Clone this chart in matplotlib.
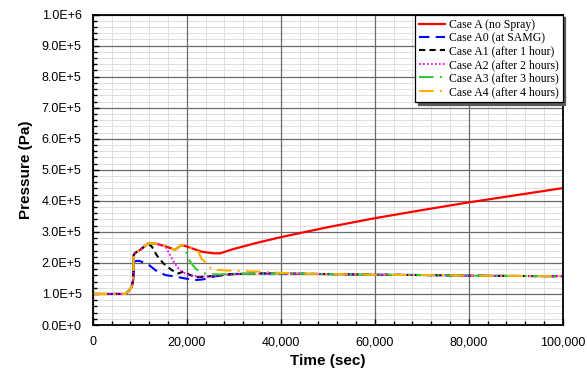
import matplotlib
matplotlib.use("Agg")
import matplotlib.pyplot as plt
from matplotlib.ticker import MultipleLocator, FuncFormatter

# ---- data (time in s, pressure in Pa) ----
t_A = [0, 6900, 7600, 8300, 8600, 8700, 9000, 10100, 11800, 13200, 15400, 17500, 18900,
       20000, 23200, 25700, 27100, 30000, 35000, 40000, 45000, 50000, 60000, 70000,
       80000, 90000, 100000]
p_A = [1.00e5, 1.00e5, 1.09e5, 1.23e5, 1.45e5, 2.25e5, 2.32e5, 2.42e5, 2.63e5, 2.63e5,
       2.54e5, 2.42e5, 2.58e5, 2.53e5, 2.36e5, 2.31e5, 2.31e5, 2.45e5, 2.65e5, 2.83e5,
       2.99e5, 3.15e5, 3.44e5, 3.70e5, 3.95e5, 4.18e5, 4.41e5]

t_A0 = [0, 6900, 7600, 8300, 8600, 8800, 9700, 11500, 13300, 15400, 17500, 19600, 22100,
        23500, 25700, 29200, 35000, 40000, 50000, 60000, 70000, 80000, 90000, 100000]
p_A0 = [1.00e5, 1.00e5, 1.09e5, 1.23e5, 1.45e5, 2.05e5, 2.07e5, 1.99e5, 1.77e5, 1.61e5,
        1.56e5, 1.50e5, 1.45e5, 1.47e5, 1.56e5, 1.64e5, 1.66e5, 1.66e5, 1.64e5, 1.62e5,
        1.61e5, 1.59e5, 1.58e5, 1.57e5]

t_A1 = [0, 6900, 7600, 8300, 8600, 8700, 9000, 10100, 11800, 12600, 13600, 15000, 16800,
        18200, 19300, 20700, 22100, 24300, 27000, 30000, 35000, 40000, 50000, 60000,
        70000, 80000, 90000, 100000]
p_A1 = [1.00e5, 1.00e5, 1.09e5, 1.23e5, 1.45e5, 2.25e5, 2.32e5, 2.42e5, 2.63e5, 2.52e5,
        2.25e5, 1.99e5, 1.77e5, 1.66e5, 1.72e5, 1.61e5, 1.54e5, 1.56e5, 1.60e5, 1.64e5,
        1.66e5, 1.66e5, 1.64e5, 1.62e5, 1.61e5, 1.59e5, 1.58e5, 1.57e5]

t_A2 = [0, 6900, 7600, 8300, 8600, 8700, 9000, 10100, 11800, 13200, 15400, 15700, 16800,
        17900, 18900, 20300, 22500, 25000, 28000, 32000, 40000, 50000, 60000, 70000,
        80000, 90000, 100000]
p_A2 = [1.00e5, 1.00e5, 1.09e5, 1.23e5, 1.45e5, 2.25e5, 2.32e5, 2.42e5, 2.63e5, 2.63e5,
        2.54e5, 2.47e5, 2.15e5, 1.88e5, 1.72e5, 1.61e5, 1.56e5, 1.57e5, 1.61e5, 1.65e5,
        1.66e5, 1.64e5, 1.62e5, 1.61e5, 1.59e5, 1.58e5, 1.57e5]

t_A3 = [0, 6900, 7600, 8300, 8600, 8700, 9000, 10100, 11800, 13200, 15400, 17500, 18900,
        19600, 20700, 22000, 22800, 24300, 27000, 30000, 40000, 50000, 60000, 70000,
        80000, 90000, 100000]
p_A3 = [1.00e5, 1.00e5, 1.09e5, 1.23e5, 1.45e5, 2.25e5, 2.32e5, 2.42e5, 2.63e5, 2.63e5,
        2.54e5, 2.42e5, 2.58e5, 2.48e5, 2.04e5, 1.80e5, 1.72e5, 1.64e5, 1.63e5, 1.65e5,
        1.66e5, 1.64e5, 1.62e5, 1.61e5, 1.59e5, 1.58e5, 1.57e5]

t_A4 = [0, 6900, 7600, 8300, 8600, 8700, 9000, 10100, 11800, 13200, 15400, 17500, 18900,
        20000, 22500, 23200, 24300, 25300, 27100, 30600, 35600, 40000, 50000, 60000,
        70000, 80000, 90000, 100000]
p_A4 = [1.00e5, 1.00e5, 1.09e5, 1.23e5, 1.45e5, 2.25e5, 2.32e5, 2.42e5, 2.63e5, 2.63e5,
        2.54e5, 2.42e5, 2.58e5, 2.53e5, 2.36e5, 2.12e5, 1.99e5, 1.79e5, 1.77e5, 1.74e5,
        1.72e5, 1.68e5, 1.64e5, 1.62e5, 1.61e5, 1.59e5, 1.58e5, 1.57e5]

labels = ["Case A (no Spray)", "Case A0 (at SAMG)", "Case A1 (after 1 hour)",
          "Case A2 (after 2 hours)", "Case A3 (after 3 hours)", "Case A4 (after 4 hours)"]

# ---- figure ----
fig = plt.figure(figsize=(5.87, 3.74), dpi=100)
ax = fig.add_axes([0.158, 0.131, 0.8006, 0.830])

ax.plot(t_A, p_A, color="#ff0000", lw=1.6, label=labels[0], zorder=3)
ax.plot(t_A0, p_A0, color="#0000ff", lw=1.5, dashes=(5, 3), label=labels[1], zorder=3)
ax.plot(t_A1, p_A1, color="#000000", lw=1.5, dashes=(3, 2), label=labels[2], zorder=3)
ax.plot(t_A2, p_A2, color="#ff00ff", lw=1.3, dashes=(1, 1.2), label=labels[3], zorder=3)
ax.plot(t_A3, p_A3, color="#33cc33", lw=1.5, dashes=(7, 3, 1, 3), label=labels[4], zorder=3)
ax.plot(t_A4, p_A4, color="#ffb000", lw=1.5, dashes=(7, 3, 1, 3), label=labels[5], zorder=3)

ax.set_xlim(0, 100000)
ax.set_ylim(0, 1.0e6)
ax.xaxis.set_major_locator(MultipleLocator(20000))
ax.xaxis.set_minor_locator(MultipleLocator(4000))
ax.yaxis.set_major_locator(MultipleLocator(1.0e5))
ax.yaxis.set_minor_locator(MultipleLocator(2.0e4))
ax.xaxis.set_major_formatter(FuncFormatter(lambda v, p: f"{int(round(v)):,}"))
ax.yaxis.set_major_formatter(FuncFormatter(lambda v, p: f"{v:.1E}".replace("E+0", "E+").replace("E-0", "E-")))

# minor grid drawn below the major grid
for xv in ax.xaxis.get_minorticklocs():
    ax.axvline(xv, color="#dedede", lw=0.7, zorder=0.2)
for yv in ax.yaxis.get_minorticklocs():
    ax.axhline(yv, color="#dedede", lw=0.7, zorder=0.2)
ax.grid(which="major", color="#6a6a6a", lw=0.9)
ax.set_axisbelow(True)

ax.tick_params(which="both", direction="in", top=False, right=False)
ax.tick_params(which="major", length=4, width=1, labelsize=9, pad=8)
ax.tick_params(which="minor", length=3, width=1)
for lab in ax.get_xticklabels() + ax.get_yticklabels():
    lab.set_fontfamily("Liberation Sans")
for s in ax.spines.values():
    s.set_linewidth(1.3)
    s.set_color("black")
    s.set_zorder(4)

ax.set_xlabel("Time (sec)", fontsize=11, fontweight="bold", family="Liberation Sans", labelpad=4)
ax.set_ylabel("Pressure (Pa)", fontsize=11, fontweight="bold", family="Liberation Sans", labelpad=6)

leg = ax.legend(loc="upper right", prop={"family": "Liberation Serif", "size": 8.5},
                frameon=True, fancybox=False, framealpha=1, edgecolor="black",
                borderaxespad=0.0, handlelength=2.2, handletextpad=0.3,
                labelspacing=0.12, borderpad=0.35, shadow={"color": "0.35", "alpha": 1})
leg.get_frame().set_linewidth(0.9)
leg.set_zorder(5)

fig.savefig("out.png", dpi=100)
